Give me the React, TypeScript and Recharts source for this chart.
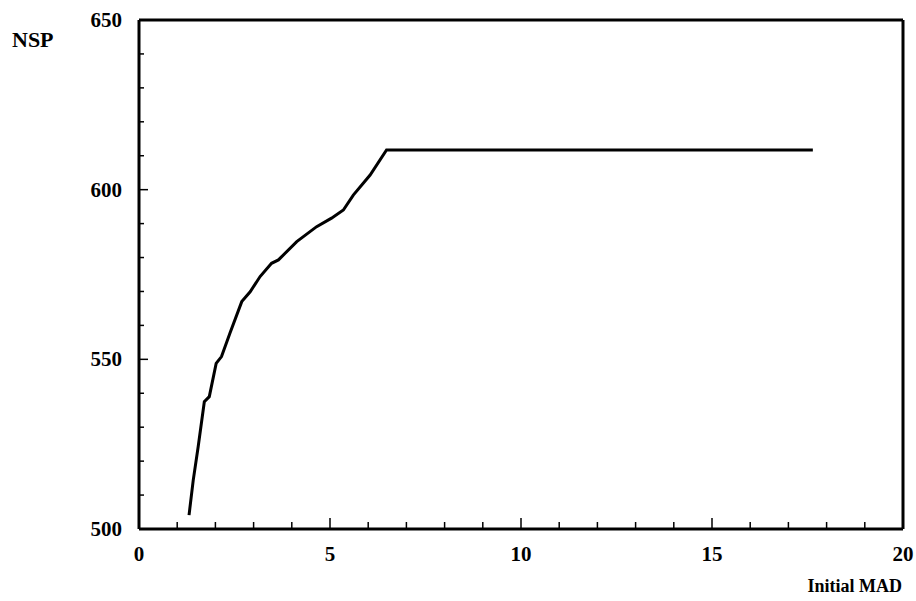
import React from "react";
import { LineChart, Line, XAxis, YAxis, ReferenceLine } from "recharts";

const madValues = [1.31, 1.42, 1.55, 1.71, 1.84, 2.02, 2.16, 2.38, 2.69, 2.91, 3.17, 3.47, 3.65, 4.13, 4.65, 5.04, 5.35, 5.61, 6.05, 6.48, 17.64];
const nspValues = [504.1, 514.4, 524.3, 537.5, 539.0, 548.8, 550.8, 557.7, 567.0, 569.9, 574.4, 578.3, 579.3, 584.7, 589.1, 591.6, 594.0, 598.4, 604.3, 611.7, 611.7];
const xTicks = [0, 1, 2, 3, 4, 5, 6, 7, 8, 9, 10, 11, 12, 13, 14, 15, 16, 17, 18, 19, 20];
const xMajor = [0, 5, 10, 15, 20];
const yTicks = [500, 510, 520, 530, 540, 550, 560, 570, 580, 590, 600, 610, 620, 630, 640, 650];
const yMajor = [500, 550, 600, 650];

const data = madValues.map((m, i) => ({ mad: m, nsp: nspValues[i] }));

const FONT = "'Liberation Serif', 'Times New Roman', serif";

const XTick = (props: any) => {
  const { x, y, payload } = props;
  const v = payload.value;
  const major = xMajor.includes(v);
  const edge = v === 0 || v === 20;
  return (
    <g>
      {!edge && (
        <line x1={x} x2={x} y1={y} y2={y - (major ? 11 : 7)} stroke="#000" strokeWidth={1.5} />
      )}
      {major && (
        <text x={x} y={y + 32} textAnchor="middle" fontFamily={FONT} fontWeight="bold" fontSize={21} fill="#000">
          {v}
        </text>
      )}
    </g>
  );
};

const YTick = (props: any) => {
  const { x, y, payload } = props;
  const v = payload.value;
  const major = yMajor.includes(v);
  const edge = v === 500 || v === 650;
  return (
    <g>
      {!edge && (
        <line x1={x} x2={x + (major ? 9 : 5)} y1={y} y2={y} stroke="#000" strokeWidth={1.5} />
      )}
      {major && (
        <text x={x - 17} y={y + 7} textAnchor="end" fontFamily={FONT} fontWeight="bold" fontSize={21} fill="#000">
          {v}
        </text>
      )}
    </g>
  );
};

export default function App() {
  return (
    <div style={{ position: "absolute", left: 0, top: 0, width: 916, height: 601, background: "#fff" }}>
      <LineChart
        width={916}
        height={601}
        data={data}
        margin={{ top: 20, right: 13, bottom: 32, left: 79 }}
      >
        <XAxis
          dataKey="mad"
          type="number"
          domain={[0, 20]}
          ticks={xTicks}
          interval={0}
          height={40}
          tickSize={0}
          tickMargin={0}
          tickLine={false}
          axisLine={{ stroke: "#000", strokeWidth: 3 }}
          tick={(p: any) => <XTick {...p} />}
        />
        <YAxis
          type="number"
          domain={[500, 650]}
          ticks={yTicks}
          interval={0}
          width={60}
          tickSize={0}
          tickMargin={0}
          tickLine={false}
          axisLine={{ stroke: "#000", strokeWidth: 3 }}
          tick={(p: any) => <YTick {...p} />}
        />
        <ReferenceLine y={650} stroke="#000" strokeWidth={3} />
        <ReferenceLine x={20} stroke="#000" strokeWidth={3} />
        <Line
          dataKey="nsp"
          type="linear"
          stroke="#000"
          strokeWidth={3}
          dot={false}
          isAnimationActive={false}
        />
      </LineChart>
      <svg width={916} height={601} style={{ position: "absolute", left: 0, top: 0, pointerEvents: "none" }}>
        <text x={12} y={47} fontFamily={FONT} fontWeight="bold" fontSize={22} fill="#000">NSP</text>
        <text x={902} y={592} textAnchor="end" fontFamily={FONT} fontWeight="bold" fontSize={18} fill="#000">Initial MAD</text>
      </svg>
    </div>
  );
}
